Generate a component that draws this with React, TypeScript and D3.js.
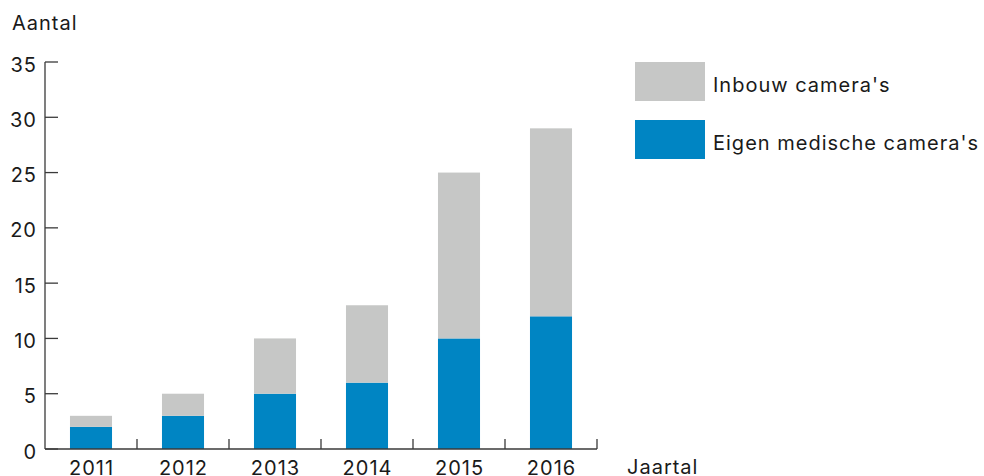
import { useEffect, useRef } from 'react'
import * as d3 from 'd3'

const years = ['2011', '2012', '2013', '2014', '2015', '2016']
const eigen = [2, 3, 5, 6, 10, 12]
const inbouw = [1, 2, 5, 7, 15, 17]
const yTicks = [0, 5, 10, 15, 20, 25, 30, 35]
const seriesNames = ["Inbouw camera's", "Eigen medische camera's"]
const colors = ['#c6c7c6', '#0085c3']

export default function App() {
    const svgRef = useRef<SVGSVGElement>(null)

    useEffect(() => {
        const svg = d3.select(svgRef.current)
        svg.selectAll('*').remove()
        const font = 'Inter, "Liberation Sans", Arial, sans-serif'
        const ls = 1.0

        const x = d3.scaleBand().domain(years).range([45, 597]).paddingInner(0.543).paddingOuter(0.2715)
        const y = d3.scaleLinear().domain([0, 35]).range([449, 62])

        const rows = years.map((yr, i) => ({ year: yr, eigen: eigen[i], inbouw: inbouw[i] }))
        const stack = d3.stack<any>().keys(['eigen', 'inbouw'])(rows)

        stack.forEach((layer, li) => {
            svg.append('g')
                .selectAll('rect')
                .data(layer)
                .enter().append('rect')
                .attr('x', d => x(d.data.year)!)
                .attr('width', x.bandwidth())
                .attr('y', d => y(d[1]))
                .attr('height', d => y(d[0]) - y(d[1]))
                .attr('fill', li === 0 ? colors[1] : colors[0])
        })

        const txt = (sel: any) => sel
            .attr('font-family', font)
            .attr('font-size', 20)
            .attr('letter-spacing', ls)
            .attr('fill', '#1a1a1a')

        const axisColor = '#3a3a3a'
        // y axis
        svg.append('line')
            .attr('x1', 45).attr('x2', 45)
            .attr('y1', y(35)).attr('y2', y(0))
            .attr('stroke', axisColor).attr('stroke-width', 1.3)
        const yg = svg.append('g')
        yTicks.forEach(t => {
            yg.append('line')
                .attr('x1', 45).attr('x2', 58)
                .attr('y1', y(t)).attr('y2', y(t))
                .attr('stroke', axisColor).attr('stroke-width', 1.3)
            yg.append('text')
                .attr('x', 36 + ls).attr('y', y(t) + 9.5)
                .attr('text-anchor', 'end')
                .call(txt)
                .text(t)
        })

        // x axis
        const step = x.step()
        const x0 = 45
        const x1 = 45 + step * years.length
        svg.append('line')
            .attr('x1', x0).attr('x2', x1)
            .attr('y1', y(0)).attr('y2', y(0))
            .attr('stroke', axisColor).attr('stroke-width', 1.3)
        for (let i = 1; i <= years.length; i++) {
            svg.append('line')
                .attr('x1', x0 + i * step).attr('x2', x0 + i * step)
                .attr('y1', y(0)).attr('y2', y(0) - 10)
                .attr('stroke', axisColor).attr('stroke-width', 1.3)
        }
        svg.append('g')
            .selectAll('text')
            .data(years)
            .enter().append('text')
            .attr('x', d => x(d)! + x.bandwidth() / 2 + ls / 2)
            .attr('y', 474.5)
            .attr('text-anchor', 'middle')
            .call(txt)
            .text(d => d)

        svg.append('text')
            .attr('x', 12).attr('y', 29.5)
            .call(txt)
            .text('Aantal')
        svg.append('text')
            .attr('x', 627).attr('y', 474)
            .call(txt)
            .text('Jaartal')

        // legend
        const legend = svg.append('g')
        seriesNames.forEach((name, i) => {
            const top = 62 + i * 58
            legend.append('rect')
                .attr('x', 635).attr('y', top)
                .attr('width', 70).attr('height', 39)
                .attr('fill', colors[i])
            legend.append('text')
                .attr('x', 713).attr('y', top + 30)
                .call(txt)
                .text(name)
        })
    }, [])

    return (
        <svg
            ref={svgRef}
            width={984}
            height={476}
            style={{ position: 'absolute', left: 0, top: 0, background: '#fff' }}
        />
    )
}
